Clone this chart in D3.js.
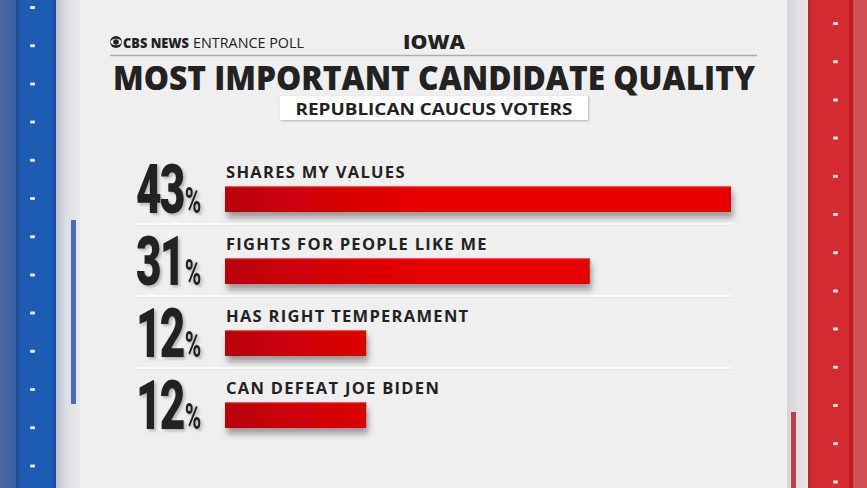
<!DOCTYPE html>
<html><head><meta charset="utf-8">
<script src="https://cdn.jsdelivr.net/npm/d3@7"></script>
<style>
html,body{margin:0;padding:0;background:#efefef;overflow:hidden}
svg{display:block}
</style></head>
<body>
<svg id="c" width="867" height="488"></svg>
<script>
const categories = ["SHARES MY VALUES","FIGHTS FOR PEOPLE LIKE ME","HAS RIGHT TEMPERAMENT","CAN DEFEAT JOE BIDEN"];
const values = [43, 31, 12, 12];
const headerLeftBold = "CBS NEWS";
const headerLeft = "ENTRANCE POLL";
const stateName = "IOWA";
const title = "MOST IMPORTANT CANDIDATE QUALITY";
const subtitle = "REPUBLICAN CAUCUS VOTERS";

const svg = d3.select("#c");
const W = 867, H = 488;
const defs = svg.append("defs");

const lg = defs.append("linearGradient").attr("id","leftEdge").attr("x1",0).attr("x2",1);
lg.append("stop").attr("offset",0).attr("stop-color","#4d66a3");
lg.append("stop").attr("offset",1).attr("stop-color","#3f5fa8");
const sg = defs.append("linearGradient").attr("id","leftStrip").attr("x1",0).attr("x2",1);
sg.append("stop").attr("offset",0).attr("stop-color","#b9bfcc");
sg.append("stop").attr("offset",0.4).attr("stop-color","#dcdde3");
sg.append("stop").attr("offset",1).attr("stop-color","#e8e8ea");
const rg = defs.append("linearGradient").attr("id","rightStrip").attr("x1",0).attr("x2",1);
rg.append("stop").attr("offset",0).attr("stop-color","#d4d3d7");
rg.append("stop").attr("offset",0.5).attr("stop-color","#e4e0e3");
rg.append("stop").attr("offset",1).attr("stop-color","#efe6e8");
const barG = defs.append("linearGradient").attr("id","barGrad").attr("gradientUnits","userSpaceOnUse").attr("x1",225).attr("x2",420);
barG.append("stop").attr("offset",0).attr("stop-color","#b8000e");
barG.append("stop").attr("offset",0.35).attr("stop-color","#cf0008");
barG.append("stop").attr("offset",1).attr("stop-color","#e60000");
const f = defs.append("filter").attr("id","shadow").attr("x","-5%").attr("y","-50%").attr("width","110%").attr("height","220%");
f.append("feDropShadow").attr("dx",2).attr("dy",6).attr("stdDeviation",3).attr("flood-color","#000").attr("flood-opacity",0.35);
const f2 = defs.append("filter").attr("id","boxShadow").attr("x","-5%").attr("y","-30%").attr("width","110%").attr("height","170%");
f2.append("feDropShadow").attr("dx",1).attr("dy",1).attr("stdDeviation",1.2).attr("flood-color","#000").attr("flood-opacity",0.25);
const f3 = defs.append("filter").attr("id","numShadow").attr("x","-10%").attr("y","-10%").attr("width","130%").attr("height","130%");
f3.append("feDropShadow").attr("dx",2).attr("dy",2).attr("stdDeviation",1.5).attr("flood-color","#000").attr("flood-opacity",0.25);

svg.append("rect").attr("width",W).attr("height",H).attr("fill","#efefef");

// left frame
svg.append("rect").attr("x",0).attr("y",0).attr("width",17).attr("height",H).attr("fill","url(#leftEdge)");
svg.append("rect").attr("x",16).attr("y",0).attr("width",3).attr("height",H).attr("fill","#1b4e96");
svg.append("rect").attr("x",19).attr("y",0).attr("width",36).attr("height",H).attr("fill","#1c5db3");
svg.append("rect").attr("x",53).attr("y",0).attr("width",3).attr("height",H).attr("fill","#1a4f98");
svg.append("rect").attr("x",56).attr("y",0).attr("width",24).attr("height",H).attr("fill","url(#leftStrip)");
svg.append("rect").attr("x",71).attr("y",220).attr("width",5).attr("height",184).attr("fill","#4a6cb2");

// right frame
svg.append("rect").attr("x",787).attr("y",0).attr("width",23).attr("height",H).attr("fill","url(#rightStrip)");
svg.append("rect").attr("x",791).attr("y",412).attr("width",5).attr("height",76).attr("fill","#b8434b");
svg.append("rect").attr("x",810).attr("y",0).attr("width",40).attr("height",H).attr("fill","#d52b30");
svg.append("rect").attr("x",808).attr("y",0).attr("width",3).attr("height",H).attr("fill","#c9242b");
svg.append("rect").attr("x",849).attr("y",0).attr("width",4).attr("height",H).attr("fill","#b81c22");
svg.append("rect").attr("x",853).attr("y",0).attr("width",14).attr("height",H).attr("fill","#d05055");

// rivets
const rivY = d3.range(7, H, 38.2);
svg.selectAll(".rl").data(rivY).join("rect").attr("x",30).attr("y",d=>d-1).attr("width",5).attr("height",3).attr("rx",1).attr("fill","#e8ecf4");
svg.selectAll(".rr").data(rivY.map(d=>d+16)).join("rect").attr("x",833).attr("y",d=>d-1).attr("width",5).attr("height",3).attr("rx",1).attr("fill","#f4e8e8");

// header
const hdr = svg.append("g");
const eye = hdr.append("g").attr("transform","translate(116,42)");
eye.append("circle").attr("r",6).attr("fill","#222");
eye.append("ellipse").attr("rx",5.6).attr("ry",3.2).attr("fill","#efefef");
eye.append("circle").attr("r",2.8).attr("fill","#222");
hdr.append("text").attr("x",123).attr("y",47.5).attr("font-family","'Open Sans', sans-serif").attr("font-size",14.5).attr("font-weight",800)
  .attr("fill","#222").attr("textLength",66).attr("lengthAdjust","spacingAndGlyphs").text(headerLeftBold);
hdr.append("text").attr("x",193).attr("y",47.5).attr("font-family","'Open Sans', sans-serif").attr("font-size",14.5).attr("font-weight",400)
  .attr("fill","#222").attr("textLength",111).attr("lengthAdjust","spacingAndGlyphs").text(headerLeft);
hdr.append("text").attr("x",434).attr("y",48.5).attr("text-anchor","middle").attr("font-family","'Open Sans', sans-serif").attr("font-weight",800).attr("font-size",19).attr("fill","#222").attr("textLength",62).attr("lengthAdjust","spacingAndGlyphs").text(stateName);
hdr.append("line").attr("x1",110).attr("x2",757).attr("y1",55.5).attr("y2",55.5).attr("stroke","#adadad").attr("stroke-width",1.6);

svg.append("text").attr("x",434).attr("y",90).attr("text-anchor","middle").attr("font-family","'Open Sans', sans-serif").attr("font-weight",800).attr("font-size",33).attr("fill","#222").attr("textLength",642).attr("lengthAdjust","spacingAndGlyphs").text(title);

svg.append("rect").attr("x",280).attr("y",96).attr("width",308).attr("height",24).attr("fill","#fff").attr("filter","url(#boxShadow)");
svg.append("text").attr("x",434).attr("y",115).attr("text-anchor","middle").attr("font-family","'Open Sans', sans-serif").attr("font-weight",700).attr("font-size",16.5).attr("fill","#222").attr("textLength",277).attr("lengthAdjust","spacingAndGlyphs").text(subtitle);

// scales
const x = d3.scaleLinear().domain([0, 43]).range([225, 731]);
const y = d3.scaleBand().domain(categories).range([150, 438]).padding(0);

const rows = svg.selectAll(".row").data(categories.map((c,i)=>({c, v: values[i], i}))).join("g").attr("class","row")
  .attr("transform", d=>`translate(0,${y(d.c)})`);

// separators (between rows only)
const seps = rows.filter(d=>d.i < categories.length-1);
seps.append("rect").attr("x",137).attr("y",73).attr("width",x(43)-137).attr("height",2).attr("fill","#fbfbfb");
seps.append("rect").attr("x",137).attr("y",75).attr("width",x(43)-137).attr("height",1).attr("fill","#e2e2e2");

// bars
rows.append("rect").attr("x",x(0)).attr("y",36).attr("width",d=>x(d.v)-x(0)).attr("height",26)
  .attr("fill","url(#barGrad)").attr("filter","url(#shadow)");
rows.append("rect").attr("x",x(0)).attr("y",36).attr("width",d=>x(d.v)-x(0)).attr("height",1.2).attr("fill","#ef6a6a").attr("opacity",0.8);

// labels
rows.append("text").attr("x",x(0)+1).attr("y",27.5).attr("font-family","'Open Sans', sans-serif").attr("font-weight",700)
  .attr("font-size",16.5).attr("letter-spacing",1.3).attr("fill","#222").text(d=>d.c);

// big numbers
const num = rows.append("g").attr("filter","url(#numShadow)");
num.append("text").attr("class","n").attr("transform","translate(136,63) scale(0.64,1)")
  .attr("font-family","Roboto, 'Liberation Sans', sans-serif").attr("font-weight",900).attr("font-size",69).attr("letter-spacing",-3)
  .attr("fill","#222").text(d=>d.v);
num.each(function(){
  const g = d3.select(this);
  const w = g.select(".n").node().getComputedTextLength()*0.64;
  g.append("text").attr("transform",`translate(${136+w+1.5},63) scale(0.62,1)`)
    .attr("font-family","Roboto, 'Liberation Sans', sans-serif").attr("font-weight",700).attr("font-size",36)
    .attr("fill","#222").text("%");
});
</script>
</body></html>
